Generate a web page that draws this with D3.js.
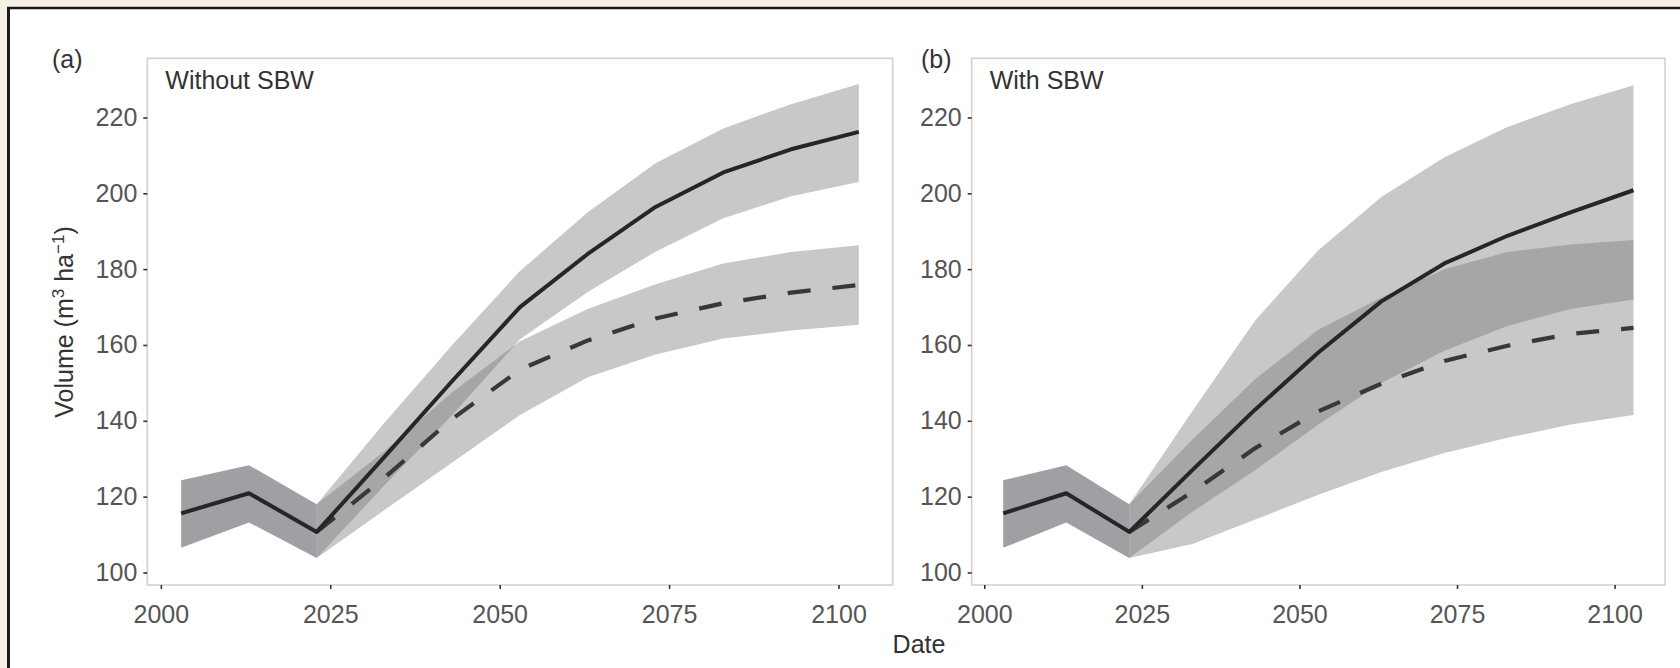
<!DOCTYPE html>
<html>
<head>
<meta charset="utf-8">
<script src="https://cdn.jsdelivr.net/npm/d3@7"></script>
<style>
body { margin: 0; background: #f6efe4; }
svg { display: block; }
</style>
</head>
<body>
<div id="chart"></div>
<script>
// ---- data (volume, m3/ha) ----
var histYears = [2003, 2013, 2023];
var histMean = [115.6, 120.9, 110.7];
var histLow = [106.5, 113.2, 103.8];
var histHigh = [124.3, 128.3, 118.0];

var futYears = [2023, 2033, 2043, 2053, 2063, 2073, 2083, 2093, 2103];

// (a) without SBW
var aSolidMean = [110.7, 130.5, 150.5, 170.0, 184.0, 196.4, 205.5, 211.6, 216.2];
var aSolidLow = [103.8, 123.0, 141.5, 161.5, 174.0, 184.6, 193.4, 199.2, 203.0];
var aSolidHigh = [118.0, 139.5, 160.0, 179.5, 195.0, 207.9, 217.1, 223.5, 228.8];
var aDashMean = [110.7, 125.0, 140.5, 153.5, 161.2, 167.0, 171.0, 173.8, 175.8];
var aDashLow = [103.8, 116.5, 129.0, 141.5, 151.5, 157.5, 161.7, 163.8, 165.3];
var aDashHigh = [118.0, 132.0, 147.5, 161.0, 169.5, 176.0, 181.5, 184.5, 186.3];

// (b) with SBW
var bSolidMean = [110.7, 127.0, 143.0, 158.0, 171.5, 181.5, 188.8, 195.0, 200.8];
var bSolidLow = [103.8, 116.0, 127.0, 139.0, 150.0, 158.5, 165.0, 169.5, 172.0];
var bSolidHigh = [118.0, 142.5, 166.5, 185.0, 199.0, 209.5, 217.5, 223.5, 228.5];
var bDashMean = [110.7, 121.2, 132.8, 142.5, 149.8, 155.8, 159.8, 162.9, 164.5];
var bDashLow = [103.8, 107.5, 114.0, 120.5, 126.5, 131.5, 135.5, 139.0, 141.5];
var bDashHigh = [118.0, 135.0, 151.0, 164.0, 172.5, 180.0, 184.5, 186.5, 187.7];

var xTicks = [2000, 2025, 2050, 2075, 2100];
var yTicks = [100, 120, 140, 160, 180, 200, 220];

var width = 1680,
  height = 668,
  font = "'Liberation Sans', Arial, sans-serif";

var svg = d3.select('#chart')
.append('svg')
  .attr('width', width)
  .attr('height', height);

// page + frame
svg.append('rect')
  .attr('x', 8)
  .attr('y', 8)
  .attr('width', width)
  .attr('height', height)
  .style('fill', '#fff');
svg.append('line')
  .attr('x1', 7).attr('x2', width)
  .attr('y1', 8).attr('y2', 8)
  .style('stroke', '#1a1a1a')
  .style('stroke-width', 2.6);
svg.append('line')
  .attr('x1', 8.5).attr('x2', 8.5)
  .attr('y1', 7).attr('y2', height)
  .style('stroke', '#1a1a1a')
  .style('stroke-width', 3);

var yScale = d3.scaleLinear()
  .domain([96.7, 235.6])
  .range([585, 58.3]);

function zip(years, mean, lo, hi) {
  return years.map(function(yr, i) { return {year: yr, mean: mean[i], lo: lo[i], hi: hi[i]}; });
}

function drawPanel(cfg, sMean, sLow, sHigh, dMean, dLow, dHigh) {
  var x = d3.scaleLinear()
    .domain([1998, 2108])
    .range([cfg.left, cfg.right]);
  var g = svg.append('g');

  var area = d3.area()
    .x(function(d) { return x(d.year); })
    .y0(function(d) { return yScale(d.lo); })
    .y1(function(d) { return yScale(d.hi); });
  var line = d3.line()
    .x(function(d) { return x(d.year); })
    .y(function(d) { return yScale(d.mean); });

  var hist = zip(histYears, histMean, histLow, histHigh);
  var solid = zip(futYears, sMean, sLow, sHigh);
  var dash = zip(futYears, dMean, dLow, dHigh);

  g.append('path')
    .datum(hist)
    .attr('d', area)
    .style('fill', '#9fa0a3');
  [solid, dash].forEach(function(s) {
    g.append('path')
      .datum(s)
      .attr('d', area)
      .style('fill', '#6c6e72')
      .style('fill-opacity', 0.38);
  });

  // panel border
  g.append('rect')
    .attr('x', cfg.left)
    .attr('y', yScale.range()[1])
    .attr('width', cfg.right - cfg.left)
    .attr('height', yScale.range()[0] - yScale.range()[1])
    .style('fill', 'none')
    .style('stroke', '#d2d2d2')
    .style('stroke-width', 1.6);

  g.append('path')
    .datum(dash)
    .attr('d', line)
    .style('fill', 'none')
    .style('stroke', '#383838')
    .style('stroke-width', 4.2)
    .style('stroke-dasharray', '23,22');
  g.append('path')
    .datum(hist.concat(solid.slice(1)))
    .attr('d', line)
    .style('fill', 'none')
    .style('stroke', '#262626')
    .style('stroke-width', 4)
    .style('stroke-linejoin', 'round');

  var xAxis = g.append('g')
    .attr('transform', 'translate(0,' + yScale.range()[0] + ')')
    .call(d3.axisBottom(x).tickValues(xTicks).tickFormat(d3.format('d')).tickSize(4).tickPadding(16));
  var yAxis = g.append('g')
    .attr('transform', 'translate(' + cfg.left + ',0)')
    .call(d3.axisLeft(yScale).tickValues(yTicks).tickSize(4).tickPadding(6));
  [xAxis, yAxis].forEach(function(a) {
    a.select('.domain').remove();
    a.selectAll('.tick line').style('stroke', '#333').style('stroke-width', 1.6);
    a.selectAll('.tick text')
      .style('font-family', font)
      .style('font-size', '25px')
      .style('fill', '#555');
  });

  g.append('text')
    .attr('x', cfg.labelX)
    .attr('y', 68)
    .text(cfg.label)
    .style('font-family', font)
    .style('font-size', '25px')
    .style('fill', '#333');
  g.append('text')
    .attr('x', cfg.left + 18)
    .attr('y', 89)
    .text(cfg.title)
    .style('font-family', font)
    .style('font-size', '25px')
    .style('fill', '#333');
}

drawPanel({left: 147.3, right: 892.7, label: '(a)', labelX: 52, title: 'Without SBW'},
  aSolidMean, aSolidLow, aSolidHigh, aDashMean, aDashLow, aDashHigh);
drawPanel({left: 971.7, right: 1665, label: '(b)', labelX: 921, title: 'With SBW'},
  bSolidMean, bSolidLow, bSolidHigh, bDashMean, bDashLow, bDashHigh);

// axis titles
var yTitle = svg.append('text')
  .attr('transform', 'translate(72.5,322) rotate(-90)')
  .attr('text-anchor', 'middle')
  .style('font-family', font)
  .style('font-size', '25px')
  .style('fill', '#333');
yTitle.append('tspan').text('Volume (m');
yTitle.append('tspan').text('3').attr('dy', -9).style('font-size', '17px');
yTitle.append('tspan').text(' ha').attr('dy', 9);
yTitle.append('tspan').text('\u22121').attr('dy', -9).style('font-size', '17px');
yTitle.append('tspan').text(')').attr('dy', 9);

svg.append('text')
  .attr('x', 919)
  .attr('y', 652.7)
  .attr('text-anchor', 'middle')
  .text('Date')
  .style('font-family', font)
  .style('font-size', '25px')
  .style('fill', '#333');
</script>
</body>
</html>
